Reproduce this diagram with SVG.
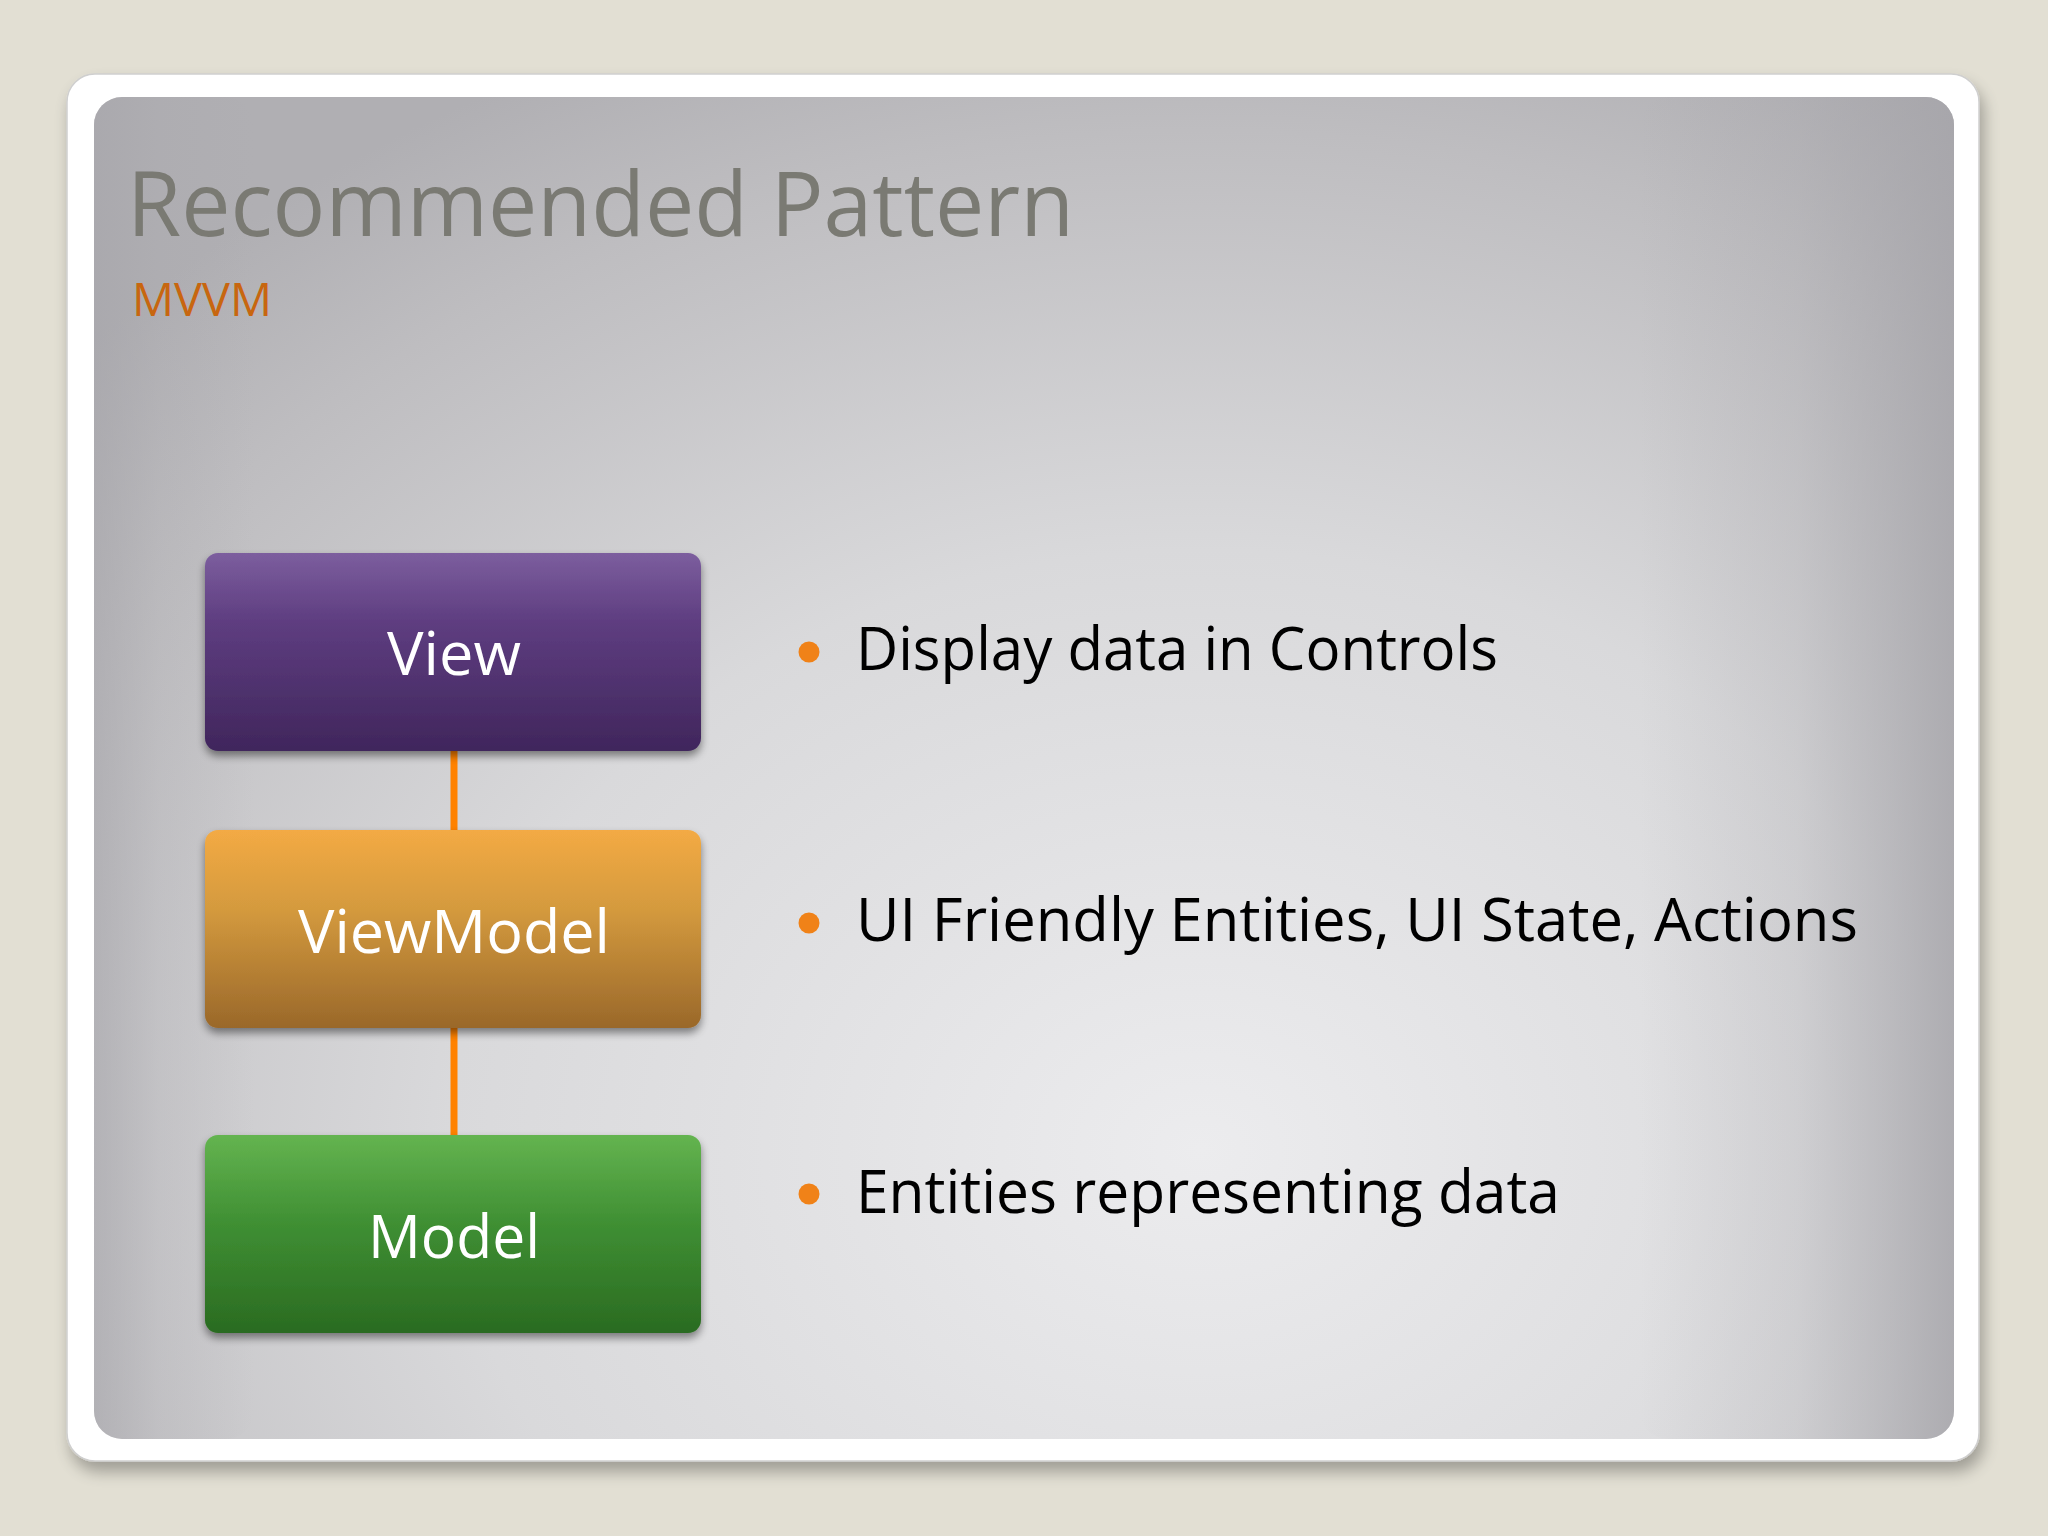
<svg xmlns="http://www.w3.org/2000/svg" width="2048" height="1536" viewBox="0 0 2048 1536">
  <defs>
    <radialGradient id="panelGrad" cx="1200" cy="1150" r="1500" gradientUnits="userSpaceOnUse" gradientTransform="translate(1200 1150) scale(1 0.8) translate(-1200 -1150)">
      <stop offset="0" stop-color="#ececee"/>
      <stop offset="0.5" stop-color="#d9d9db"/>
      <stop offset="0.85" stop-color="#bebdc0"/>
      <stop offset="1" stop-color="#b0afb3"/>
    </radialGradient>
    <linearGradient id="rightEdge" x1="0" y1="0" x2="1" y2="0">
      <stop offset="0" stop-color="#a6a5aa" stop-opacity="0"/>
      <stop offset="0.5" stop-color="#a6a5aa" stop-opacity="0.25"/>
      <stop offset="0.8" stop-color="#a6a5aa" stop-opacity="0.6"/>
      <stop offset="1" stop-color="#a6a5aa" stop-opacity="0.85"/>
    </linearGradient>
    <linearGradient id="leftEdge" x1="0" y1="0" x2="1" y2="0">
      <stop offset="0" stop-color="#a6a5aa" stop-opacity="0.6"/>
      <stop offset="0.4" stop-color="#a6a5aa" stop-opacity="0.2"/>
      <stop offset="1" stop-color="#a6a5aa" stop-opacity="0"/>
    </linearGradient>
    <linearGradient id="gView" x1="0" y1="0" x2="0" y2="1">
      <stop offset="0" stop-color="#7c5e9e"/>
      <stop offset="0.35" stop-color="#5e3d80"/>
      <stop offset="1" stop-color="#40265c"/>
    </linearGradient>
    <linearGradient id="gVM" x1="0" y1="0" x2="0" y2="1">
      <stop offset="0" stop-color="#f3aa44"/>
      <stop offset="0.4" stop-color="#d49a3e"/>
      <stop offset="1" stop-color="#9a682a"/>
    </linearGradient>
    <linearGradient id="gModel" x1="0" y1="0" x2="0" y2="1">
      <stop offset="0" stop-color="#64b450"/>
      <stop offset="0.45" stop-color="#3f8f33"/>
      <stop offset="1" stop-color="#2a6b21"/>
    </linearGradient>
    <filter id="boxShadow" x="-10%" y="-10%" width="120%" height="130%">
      <feGaussianBlur in="SourceAlpha" stdDeviation="4"/>
      <feOffset dx="0" dy="5" result="b"/>
      <feComponentTransfer><feFuncA type="linear" slope="0.45"/></feComponentTransfer>
      <feMerge><feMergeNode/><feMergeNode in="SourceGraphic"/></feMerge>
    </filter>
    <filter id="cardShadow" x="-5%" y="-5%" width="110%" height="112%">
      <feGaussianBlur in="SourceAlpha" stdDeviation="8"/>
      <feOffset dx="4" dy="10" result="b"/>
      <feComponentTransfer><feFuncA type="linear" slope="0.3"/></feComponentTransfer>
      <feMerge><feMergeNode/><feMergeNode in="SourceGraphic"/></feMerge>
    </filter>
  </defs>
  <style>
    .title { font-family: "Open Sans", "Noto Sans", "Liberation Sans", sans-serif; font-size: 90px; fill: #7a7a73; }
    .sub { font-family: "Open Sans", "Noto Sans", "Liberation Sans", sans-serif; font-size: 45px; fill: #c8660f; }
    .label { font-family: "Open Sans", "Noto Sans", "Liberation Sans", sans-serif; font-size: 60px; fill: #ffffff; text-anchor: middle; }
    .bullet { font-family: "Open Sans", "Noto Sans", "Liberation Sans", sans-serif; font-size: 61px; fill: #000000; }
    .dot { fill: #f08218; }
    .conn { stroke: #ff8200; stroke-width: 7; fill: none; }
  </style>

  <rect width="2048" height="1536" fill="#e2dfd3"/>

  <g id="card">
    <rect x="67" y="74" width="1912" height="1387" rx="28" fill="#ffffff" stroke="#cfcfcf" stroke-width="1.5" filter="url(#cardShadow)"/>
    <rect x="94" y="97" width="1860" height="1342" rx="28" fill="url(#panelGrad)"/>
    <rect x="1640" y="97" width="314" height="1342" rx="28" fill="url(#rightEdge)"/>
    <rect x="94" y="97" width="160" height="1342" rx="28" fill="url(#leftEdge)"/>
  </g>

  <g id="heading">
    <text class="title" x="127" y="236" textLength="947" lengthAdjust="spacingAndGlyphs">Recommended Pattern</text>
    <text class="sub" x="132" y="316" textLength="140" lengthAdjust="spacingAndGlyphs">MVVM</text>
  </g>

  <g id="connectors">
    <line class="conn" x1="454" y1="748" x2="454" y2="833"/>
    <line class="conn" x1="454" y1="1025" x2="454" y2="1138"/>
  </g>

  <g id="node-view">
    <rect x="205" y="553" width="496" height="198" rx="13" fill="url(#gView)" filter="url(#boxShadow)"/>
    <text class="label" x="454" y="675" textLength="134" lengthAdjust="spacingAndGlyphs">View</text>
  </g>

  <g id="node-viewmodel">
    <rect x="205" y="830" width="496" height="198" rx="13" fill="url(#gVM)" filter="url(#boxShadow)"/>
    <text class="label" x="454" y="953" textLength="312" lengthAdjust="spacingAndGlyphs">ViewModel</text>
  </g>

  <g id="node-model">
    <rect x="205" y="1135" width="496" height="198" rx="13" fill="url(#gModel)" filter="url(#boxShadow)"/>
    <text class="label" x="454" y="1258" textLength="172" lengthAdjust="spacingAndGlyphs">Model</text>
  </g>

  <g id="bullets">
    <circle class="dot" cx="809" cy="652" r="10.5"/>
    <text class="bullet" x="856" y="670" textLength="642" lengthAdjust="spacingAndGlyphs">Display data in Controls</text>
    <circle class="dot" cx="809" cy="923" r="10.5"/>
    <text class="bullet" x="856" y="941" textLength="1002" lengthAdjust="spacingAndGlyphs">UI Friendly Entities, UI State, Actions</text>
    <circle class="dot" cx="809" cy="1194" r="10.5"/>
    <text class="bullet" x="856" y="1213" textLength="704" lengthAdjust="spacingAndGlyphs">Entities representing data</text>
  </g>
</svg>
